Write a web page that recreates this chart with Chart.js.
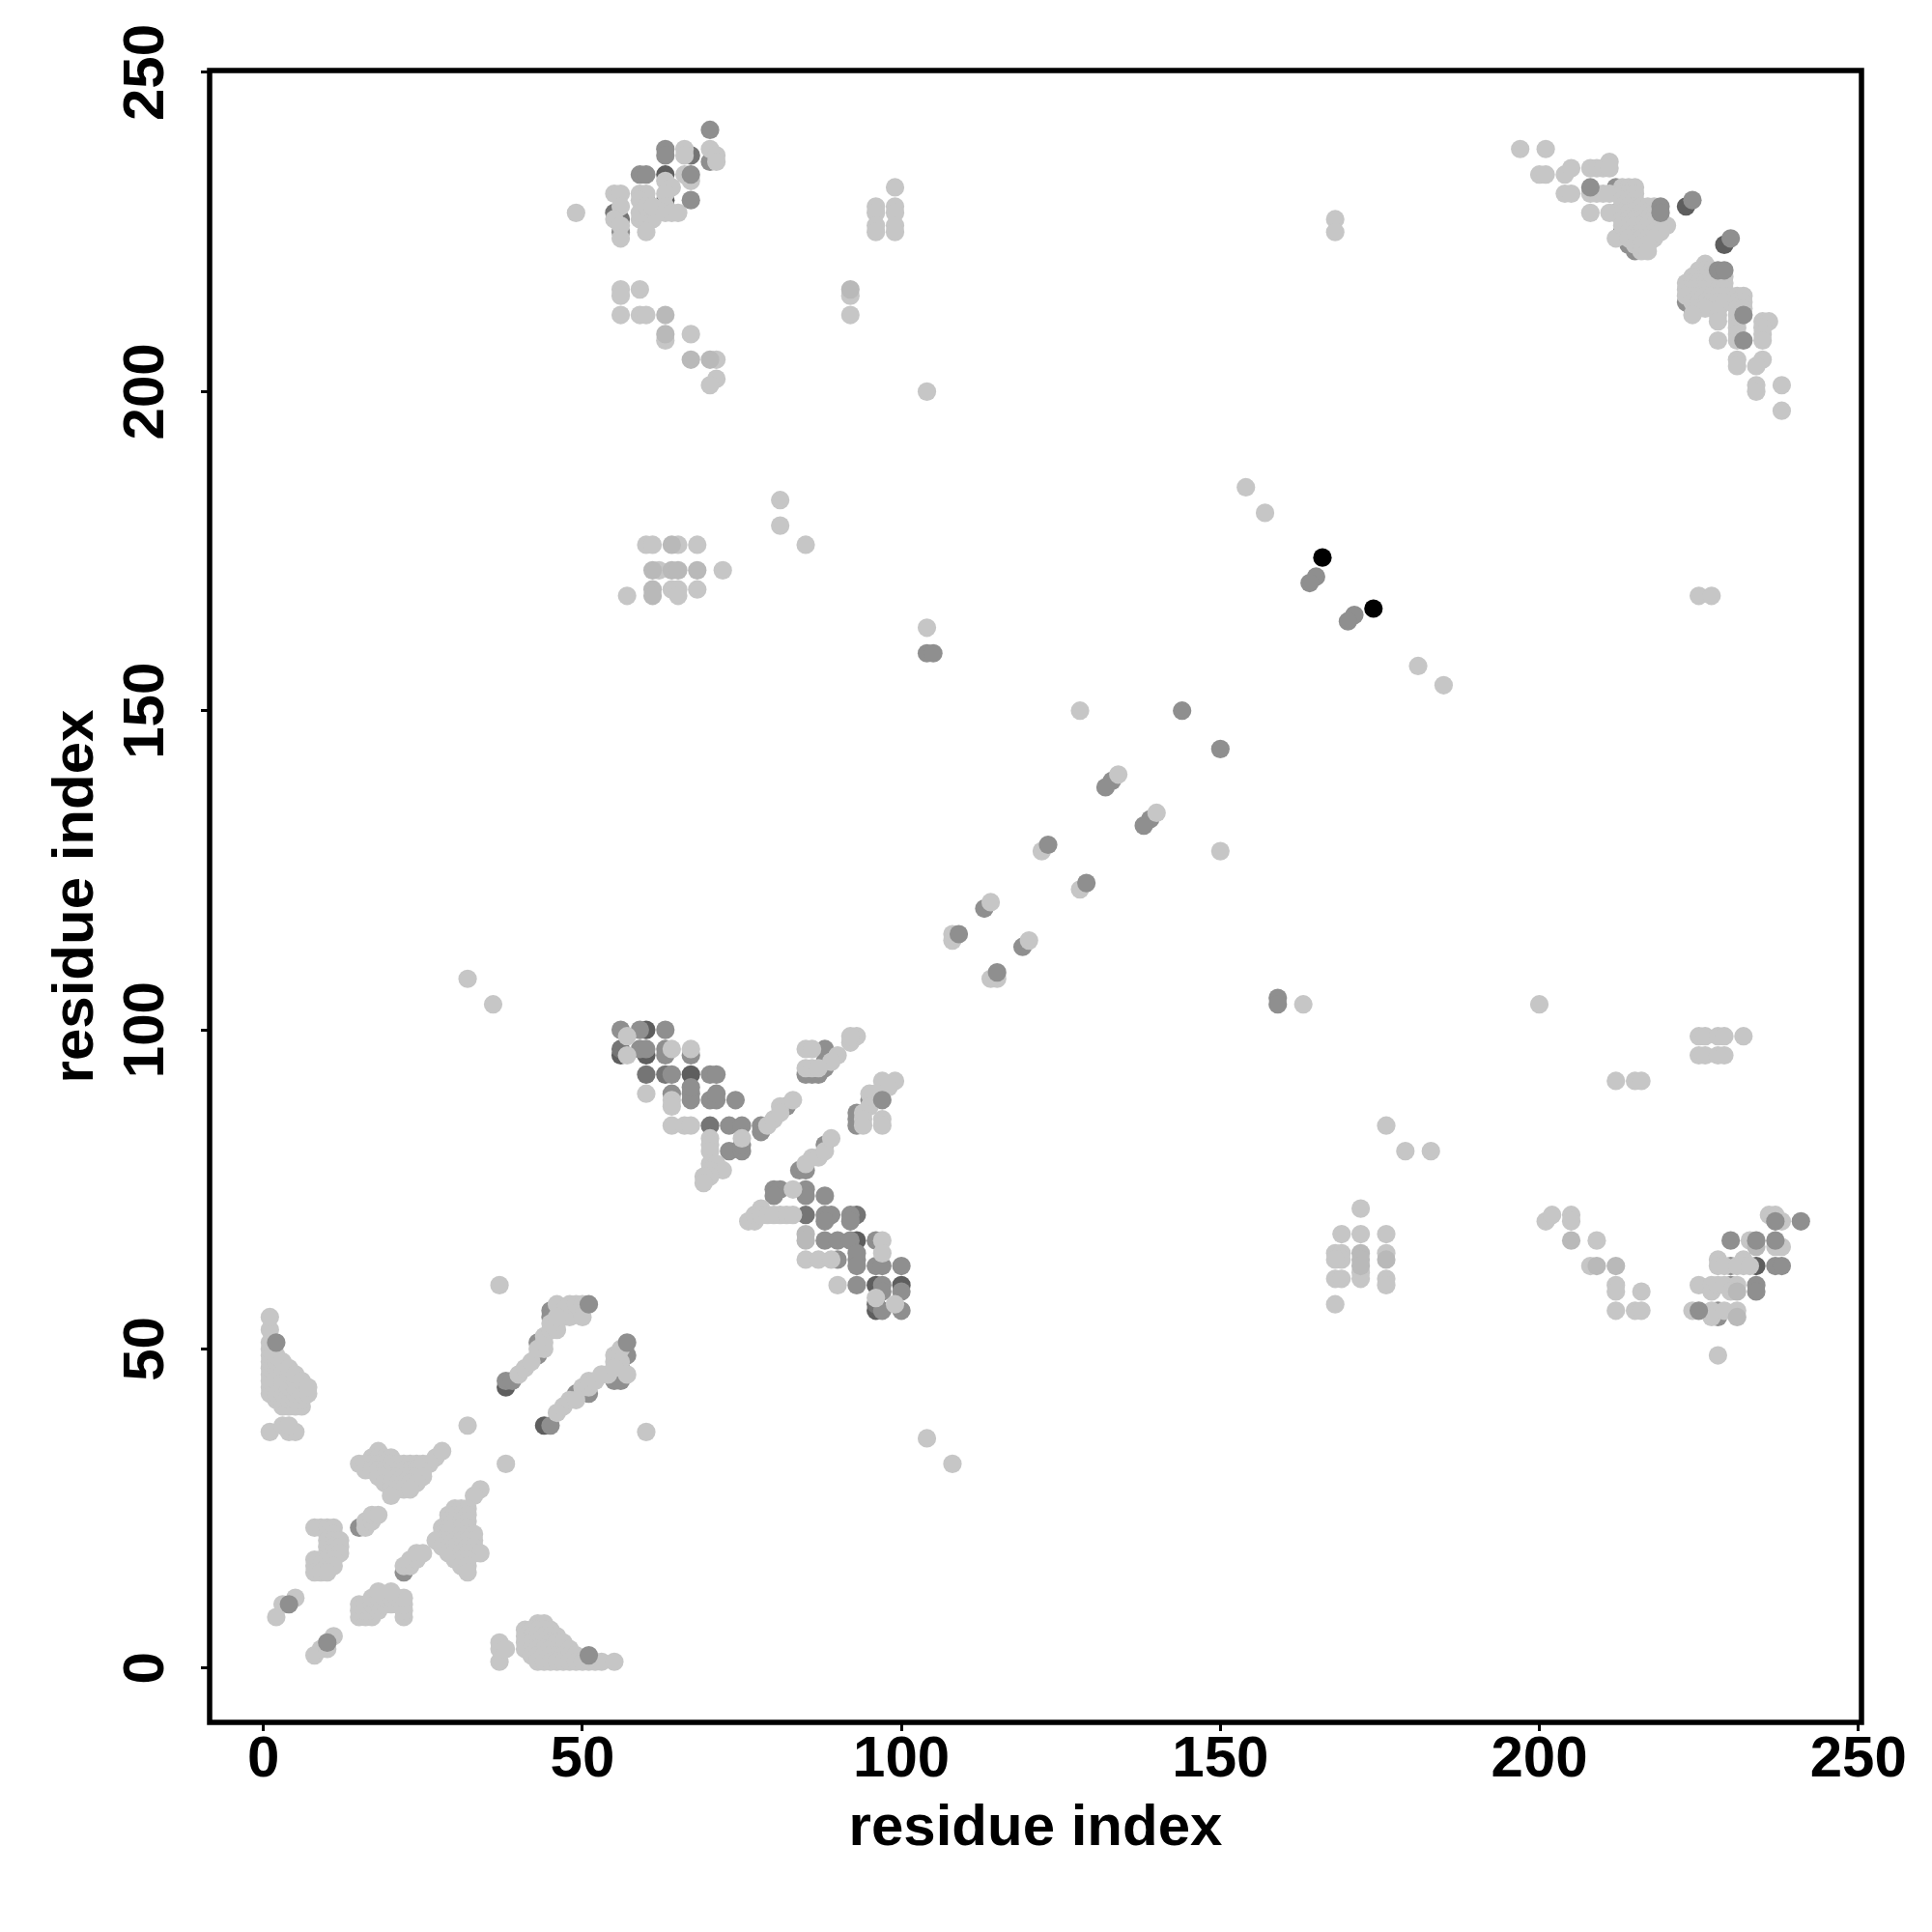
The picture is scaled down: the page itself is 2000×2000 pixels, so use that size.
<!DOCTYPE html>
<html>
<head>
<meta charset="utf-8">
<title>residue contact map</title>
<script src="https://cdn.jsdelivr.net/npm/chart.js@4"></script>
<style>
  html, body { margin: 0; padding: 0; background: #fff; }
  canvas { display: block; }
</style>
</head>
<body>
<canvas id="contact-map" width="2000" height="2000"></canvas>
<script>
// contact map data, [x, y] residue pairs, one list per grey level
const tickLabels = [0, 50, 100, 150, 200, 250];
const axisTitle = 'residue index';

const blackContacts = [[166,174],[174,166]];

const darkContacts = [
  [38,44],[44,38],[60,100],[60,96],[56,96],[67,93],[93,67],[96,60],[100,60],[96,56],
  [234,63],[63,234],[223,229],[229,223],[213,225],[224,213],[63,230]
];

const darkMidContacts = [
  [70,85],[85,71],[56,97],[60,93],[63,93],[67,237],[55,228],[56,227],[93,71],[96,57]
];

const midContacts = [
  [15,22],[22,15],[38,45],[39,45],[45,38],[43,49],[43,51],[45,56],[45,55],[49,56],
  [49,43],[51,43],[55,45],[56,45],[56,47],[57,49],
  [56,100],[59,100],[63,100],[59,97],[60,97],[63,97],[67,96],[63,96],[64,93],
  [70,93],[71,93],[64,90],[67,90],[67,89],[67,91],[70,89],[71,89],[71,90],[74,89],
  [73,85],[75,85],[78,84],[78,85],[82,88],[73,81],[75,81],[75,82],[88,97],[88,95],[88,94],
  [85,93],[86,93],[87,93],[95,89],[93,85],[93,86],[93,87],[84,78],[85,78],[88,82],
  [80,75],[81,75],[85,75],[85,74],[80,74],[88,74],[88,71],[89,71],[92,71],[88,70],[92,70],
  [88,67],[90,67],[92,67],[96,67],[90,64],[93,64],[93,65],[93,63],[96,63],[97,63],[100,63],
  [93,60],[97,60],[97,59],[100,59],[97,56],[100,56],
  [63,238],[63,237],[59,234],[60,234],[60,230],[70,236],[56,225],
  [212,232],[212,228],[214,223],[215,222],[223,214],[228,213],
  [228,56],[228,55],[230,60],[230,63],
  [133,139],[132,138],[139,133],[138,132],[113,119],[119,113]
];

// slightly darker than the main light grey
const paleContacts = [
  [61,172],[64,172],[65,172],[68,172],[64,176],[61,169],[61,168],
  [63,212],[63,209],[67,205],[70,205],[92,216],
  [205,67],[209,63],[212,63],[172,65],[172,64],[172,63],[176,64],[85,68],[85,67],
  [231,59],[231,55],[234,66]
];

const lightContacts = [
  // lower left blobs
  [1,37],[3,38],[4,37],[5,37],[4,38],
  [1,43],[1,44],[1,45],[1,46],[1,47],[1,48],[1,49],[1,50],[1,51],[1,53],[1,55],
  [2,42],[2,43],[2,44],[2,45],[2,46],[2,47],[2,48],[2,49],
  [3,41],[3,42],[3,43],[3,44],[3,45],[3,46],[3,47],[3,48],
  [4,41],[4,42],[4,43],[4,44],[4,45],[4,46],[4,47],
  [5,41],[5,42],[5,43],[5,44],[5,45],[5,46],
  [6,41],[6,42],[6,43],[6,44],[6,45],[7,43],[7,44],
  [37,1],[37,3],[37,4],[38,3],
  [43,7],[44,7],[41,6],[42,6],[43,6],[44,6],[45,6],
  [41,5],[42,5],[43,5],[44,5],[45,5],[46,5],
  [41,4],[42,4],[43,4],[44,4],[45,4],[46,4],[47,4],
  [41,3],[42,3],[43,3],[44,3],[45,3],[46,3],[47,3],[48,3],
  [42,2],[43,2],[44,2],[45,2],[46,2],[47,2],[48,2],[49,2],
  [43,1],[44,1],[45,1],[46,1],[47,1],[48,1],[49,1],[50,1],[51,1],[52,1],[53,1],[55,1],
  [8,2],[9,3],[10,3],[11,5],[2,8],[3,10],[5,11],
  [15,8],[16,8],[17,8],[22,8],[15,9],[16,9],[17,9],[18,9],[22,9],
  [15,10],[16,10],[17,10],[18,10],[19,10],[20,10],[21,10],[22,10],
  [17,11],[18,11],[19,11],[20,11],[21,11],[22,11],[18,12],[20,12],
  [22,16],[23,16],[23,17],[24,17],[24,18],[25,18],
  [8,22],[9,22],[10,22],[11,22],[10,21],[11,21],[10,20],[11,20],[12,20],
  [10,19],[11,19],[12,19],[10,18],[11,18],[12,18],
  [8,17],[9,17],[10,17],[11,17],[8,16],[9,16],[10,16],[11,16],[8,15],[9,15],[10,15],
  [16,22],[16,23],[17,23],[17,24],[18,24],
  [18,34],[17,33],[18,33],[19,33],[20,33],
  [15,32],[16,32],[17,32],[18,32],[19,32],[20,32],[21,32],[22,32],[23,32],[24,32],[25,32],[27,33],[28,34],[26,32],
  [16,31],[17,31],[18,31],[19,31],[20,31],[21,31],[22,31],[23,31],[24,31],[25,31],
  [18,30],[19,30],[20,30],[21,30],[22,30],[23,30],[24,30],[25,30],
  [19,29],[20,29],[21,29],[22,29],[23,29],[24,29],
  [20,28],[21,28],[22,28],[23,28],[20,27],
  [32,38],[38,32],[34,28],[33,27],
  [30,25],[31,25],[32,25],[29,24],[30,24],[31,24],[32,24],[29,23],[30,23],[31,23],[32,23],
  [28,22],[29,22],[30,22],[31,22],[32,22],[28,21],[29,21],[30,21],[31,21],[32,21],[33,21],
  [27,20],[28,20],[29,20],[30,20],[31,20],[32,20],[33,20],
  [28,19],[29,19],[30,19],[31,19],[32,19],[33,19],
  [29,18],[30,18],[31,18],[32,18],[33,18],[34,18],
  [30,17],[31,17],[32,17],[31,16],[32,16],[32,15],
  // strips beside the diagonal, lower left
  [40,46],[41,47],[42,48],[43,50],[44,50],[44,51],[44,52],[45,53],[46,53],[45,54],
  [46,57],[47,56],[47,55],[48,55],[48,57],[49,57],[50,57],[50,55],[46,55],
  [46,40],[47,41],[48,42],[49,42],[50,44],[51,44],[51,45],[52,45],[53,46],[54,46],
  [55,48],[55,49],[56,50],[56,48],[57,46],[55,47],
  [37,60],[60,37],[104,36],[108,32],[32,108],[36,104],
  // second block
  [57,99],[64,97],[67,97],[57,96],[60,90],[64,89],[64,88],[64,85],[66,85],[67,85],
  [79,85],[80,86],[81,88],[81,87],[83,89],
  [70,83],[70,82],[70,81],[70,79],[71,79],[72,78],[70,78],[70,77],[69,77],[69,76],[75,83],
  [85,97],[86,97],[90,96],[89,95],[92,98],[93,99],[92,99],[85,94],[86,94],[87,94],
  [99,92],[98,91],[97,92],[96,90],[95,90],[95,88],[94,87],[94,86],[94,85],[97,86],[97,85],
  [85,79],[86,80],[87,80],[88,81],[89,83],
  [83,75],[76,70],[77,70],[78,72],[77,71],[78,71],[79,71],[80,71],[81,71],[82,71],[83,71],
  [97,67],[85,64],[87,64],[89,64],[97,65],[90,60],[96,58],[99,57],
  // upper left
  [66,238],[66,237],[70,238],[71,237],[71,236],[66,234],[67,233],[63,233],[64,232],
  [55,231],[56,231],[59,231],[60,231],[59,230],[63,231],[63,229],
  [49,228],[56,229],[55,227],[59,227],[60,227],[61,227],[59,228],[60,229],[61,229],
  [63,228],[64,228],[65,228],[60,225],[56,226],[56,224],
  [56,216],[56,215],[59,216],[56,212],[59,212],[60,212],[63,208],[67,209],
  [71,205],[71,202],[70,201],
  [92,215],[92,212],[104,200],[99,232],
  [96,229],[96,228],[96,226],[96,225],[99,229],[99,228],[99,226],[99,225],
  // upper right
  [197,238],[201,238],[200,234],[201,234],[204,234],[205,235],[208,235],[209,235],[210,235],[211,236],[211,235],
  [204,231],[205,231],[208,231],[209,231],[210,231],[211,231],[213,232],[214,232],[215,232],
  [208,228],[211,228],[212,224],
  [213,231],[214,231],[215,231],[213,230],[214,230],[215,230],
  [213,229],[214,229],[215,229],[216,229],[217,229],[218,229],
  [213,228],[214,228],[215,228],[216,228],[217,228],[218,228],
  [213,227],[214,227],[215,227],[216,227],[217,227],[218,227],[219,227],
  [213,226],[214,226],[215,226],[216,226],[217,226],[218,226],[219,226],[220,226],
  [214,225],[215,225],[216,225],[217,225],[218,225],[219,225],
  [214,224],[215,224],[216,224],[217,224],[218,224],
  [215,223],[216,223],[217,223],[216,222],[217,222],
  [226,220],[225,219],[226,219],[227,219],
  [224,218],[225,218],[226,218],[227,218],[228,218],[229,218],
  [223,217],[224,217],[225,217],[226,217],[227,217],[228,217],[229,217],
  [223,216],[224,216],[225,216],[226,216],[227,216],[228,216],[229,216],
  [223,215],[224,215],[225,215],[226,215],[227,215],[228,215],[229,215],[231,215],[232,215],
  [224,214],[225,214],[226,214],[227,214],[228,214],[229,214],[231,214],[232,214],
  [225,213],[226,213],[231,213],[232,213],
  [224,212],[228,212],[228,211],[231,212],[231,211],[231,210],[231,209],[231,208],[228,208],
  [235,211],[236,211],[235,210],[235,209],[235,208],[231,205],[231,204],[235,205],[234,204],
  [234,201],[234,200],[238,201],[238,197],
  // lower right
  [201,70],[202,71],[205,71],[205,70],[209,67],[208,63],
  [212,60],[212,59],[216,59],[212,56],[215,56],[216,56],
  [224,56],[227,56],[227,55],[229,56],[231,56],[228,49],
  [225,60],[227,60],[227,59],[228,60],[229,60],[231,60],[230,59],
  [228,64],[228,63],[229,63],[231,63],[232,64],[232,63],[233,63],
  [233,67],[238,66],[237,66],[236,71],[237,71],[238,70],
  [172,72],[169,68],[172,68],[176,68],[168,65],[169,65],[169,64],[168,64],
  [176,65],[168,61],[169,61],[172,62],[172,61],[176,61],[176,60],[168,57],
  // middle part
  [128,150],[134,140],[140,134],[150,128],[122,128],[128,122],[114,120],[108,115],[108,114],
  [120,114],[115,108],[114,108],[163,104],[104,163],[154,185],[157,181],[181,157],[185,154],
  [81,183],[81,179],[85,176],[60,176],[61,176],[65,176],[68,176],
  [62,172],[72,172],
  [57,168],[64,169],[65,169],[65,168],[68,169],
  [168,227],[168,225],[225,168],[227,168],[200,104],
  [225,99],[226,99],[228,99],[229,99],[232,99],[225,96],[226,96],[228,96],[229,96],
  [212,92],[215,92],[216,92],[176,85],[179,81],[183,81]
];

// these sit over the light points
const midTopContacts = [
  [2,51],[51,2],[51,57],[57,51],[10,4],[4,10],[97,89],[67,234],[67,230],[70,241],
  [208,232],[219,229],[219,228],[228,219],[229,219],[224,230],[230,224],[232,212],[232,208],
  [225,56],[234,60],[234,59],[234,67],[230,67],[237,67],[237,63],[238,63],[237,70],[241,70],
  [144,150],[150,144],[123,129],[129,123],[109,115],[115,109],[159,105],[159,104],
  [165,171],[164,170],[171,165],[170,164],[104,159],[105,159]
];

const layers = [
  { name: 'black', data: blackContacts, color: '#000000' },
  { name: 'top', data: midTopContacts, color: '#8f8f8f' },
  { name: 'pale', data: paleContacts, color: '#b9b9b9' },
  { name: 'light', data: lightContacts, color: '#c6c6c6' },
  { name: 'mid', data: midContacts, color: '#8f8f8f' },
  { name: 'darkMid', data: darkMidContacts, color: '#757575' },
  { name: 'dark', data: darkContacts, color: '#5e5e5e' }
];

// black frame round the plot area
const framePlugin = {
  id: 'frame',
  afterDraw(chart) {
    const a = chart.chartArea;
    const c = chart.ctx;
    c.save();
    c.strokeStyle = '#000';
    c.lineWidth = 5.5;
    c.strokeRect(a.left, a.top, a.right - a.left, a.bottom - a.top);
    c.restore();
  }
};

const fontFamily = '"Liberation Sans", Arial, sans-serif';

function axisOptions(min, max, titlePad, tickPad, size) {
  return {
    type: 'linear',
    min: min,
    max: max,
    afterBuildTicks(scale) {
      scale.ticks = tickLabels.map(v => ({ value: v }));
    },
    afterFit(scale) {
      if (scale.isHorizontal()) scale.height = size;
      else scale.width = size;
    },
    grid: { drawOnChartArea: false, drawTicks: true, tickLength: 9, tickWidth: 3, tickColor: '#000' },
    border: { display: false },
    title: {
      display: true,
      text: axisTitle,
      color: '#000',
      font: { family: fontFamily, size: 60, weight: 'bold', lineHeight: 1.2 },
      padding: { top: titlePad, bottom: titlePad }
    },
    ticks: {
      autoSkip: false,
      color: '#000',
      font: { family: fontFamily, size: 60, weight: 'bold' },
      padding: tickPad,
      callback: v => String(v)
    }
  };
}

const xAxis = axisOptions(-8.44, 250.5, 70.5, -6, 217);
const yAxis = axisOptions(-8.5, 250.3, 43, 5.5, 217);
yAxis.ticks.minRotation = 90;
yAxis.ticks.maxRotation = 90;
yAxis.ticks.crossAlign = 'center';

new Chart(document.getElementById('contact-map'), {
  type: 'scatter',
  data: {
    datasets: layers.map(l => ({
      label: l.name,
      data: l.data.map(p => ({ x: p[0], y: p[1] })),
      backgroundColor: l.color,
      pointRadius: 9.6,
      pointBorderWidth: 0
    }))
  },
  options: {
    responsive: false,
    animation: false,
    layout: { padding: { top: 73, right: 73, left: 0, bottom: 0 } },
    plugins: { legend: { display: false }, tooltip: { enabled: false } },
    scales: { x: xAxis, y: yAxis }
  },
  plugins: [framePlugin]
});
</script>
</body>
</html>
